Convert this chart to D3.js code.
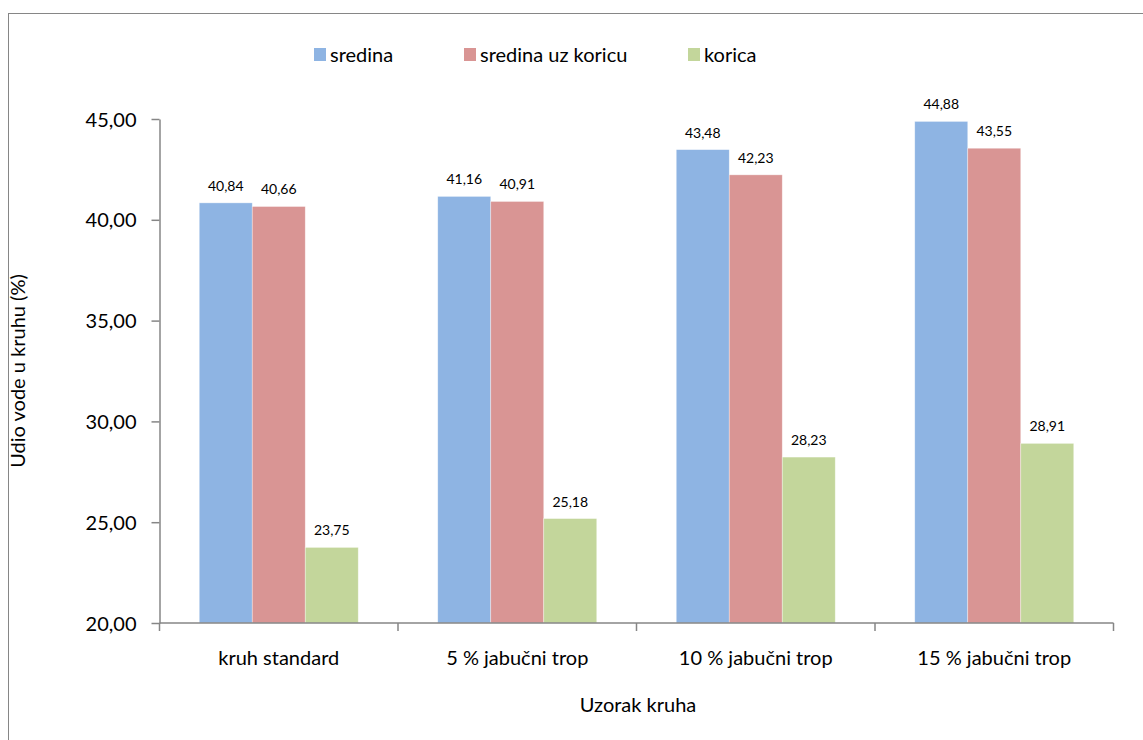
<!DOCTYPE html>
<html><head><meta charset="utf-8">
<script src="https://cdn.jsdelivr.net/npm/d3@7"></script>
<style>body{margin:0;background:#fff;} text{font-family:Lato, "Open Sans", sans-serif;}</style>
</head><body>
<svg id="c" width="1143" height="740"></svg>
<script>
const categories = ["kruh standard", "5 % jabučni trop", "10 % jabučni trop", "15 % jabučni trop"];
const seriesNames = ["sredina", "sredina uz koricu", "korica"];
const sredina = [40.84, 41.16, 43.48, 44.88];
const sredinaUzKoricu = [40.66, 40.91, 42.23, 43.55];
const korica = [23.75, 25.18, 28.23, 28.91];
const yTicks = [20, 25, 30, 35, 40, 45];
const colors = ["#8EB4E3", "#D99594", "#C3D69B"];

(function(){
const seriesValues = [sredina, sredinaUzKoricu, korica];
const svg = d3.select("#c");
svg.append("rect").attr("x",8.5).attr("y",13.5).attr("width",1150).attr("height",740).attr("fill","#fff").attr("stroke","#868686").attr("stroke-width",1);

const pLeft = 159.5, pRight = 1113.5, pTop = 119, pBottom = 623;
const x0 = d3.scaleBand().domain(categories).range([pLeft, pRight]).paddingInner(0).paddingOuter(0);
const groupW = x0.bandwidth()*3/4.5;
const x1 = d3.scaleBand().domain(seriesNames).range([0, groupW]);
const y = d3.scaleLinear().domain([20,45]).range([pBottom, pTop]);
const fmt = v => d3.format(".2f")(v).replace(".", ",");

categories.forEach((c, i) => {
  const g = svg.append("g").attr("transform", `translate(${x0(c) + (x0.bandwidth()-groupW)/2},0)`);
  seriesNames.forEach((s, j) => {
    const v = seriesValues[j][i];
    g.append("rect").attr("x", x1(s)).attr("y", y(v)).attr("width", x1.bandwidth()).attr("height", y(20)-y(v))
      .attr("fill", colors[j]).attr("stroke","#fff").attr("stroke-opacity",0.5).attr("stroke-width",0.7);
    g.append("text").attr("x", x1(s)+x1.bandwidth()/2).attr("y", y(v)-12).attr("text-anchor","middle")
      .attr("font-size",14).attr("fill","#000").text(fmt(v));
  });
});

const yAxis = d3.axisLeft(y).tickValues(yTicks).tickFormat(fmt).tickSize(8).tickSizeOuter(0);
const ya = svg.append("g").attr("transform",`translate(${pLeft},0)`).call(yAxis);
ya.select(".domain").attr("stroke","#868686").attr("stroke-width",1.5);
ya.selectAll(".tick line").attr("stroke","#868686").attr("stroke-width",1.5);
ya.selectAll(".tick text").attr("font-size",20).attr("fill","#000").attr("x",-23).attr("dy","0.35em")
  .style("font-family","Lato, 'Open Sans', sans-serif");

const xa = svg.append("g").attr("transform",`translate(0,${pBottom})`);
xa.append("line").attr("x1",pLeft).attr("x2",pRight).attr("y1",0).attr("y2",0).attr("stroke","#868686").attr("stroke-width",1.5);
const bounds = categories.map(c => x0(c)).concat([pRight]);
xa.selectAll("line.t").data(bounds).enter().append("line").attr("class","t")
  .attr("x1",d=>d).attr("x2",d=>d).attr("y1",0).attr("y2",8).attr("stroke","#868686").attr("stroke-width",1.5);
xa.selectAll("text").data(categories).enter().append("text")
  .attr("x", d => x0(d)+x0.bandwidth()/2).attr("y", 42).attr("text-anchor","middle").attr("font-size",20).attr("fill","#000").text(d=>d);

svg.append("text").attr("x",638).attr("y",712).attr("text-anchor","middle").attr("font-size",20).text("Uzorak kruha");
svg.append("text").attr("transform","translate(25,371) rotate(-90)").attr("text-anchor","middle").attr("font-size",20).text("Udio vode u kruhu (%)");

const legX = [314, 464, 688];
seriesNames.forEach((s,j) => {
  svg.append("rect").attr("x",legX[j]).attr("y",48).attr("width",12).attr("height",13).attr("fill",colors[j]);
  svg.append("text").attr("x",legX[j]+16).attr("y",62).attr("font-size",20).text(s);
});
})();
</script>
</body></html>
